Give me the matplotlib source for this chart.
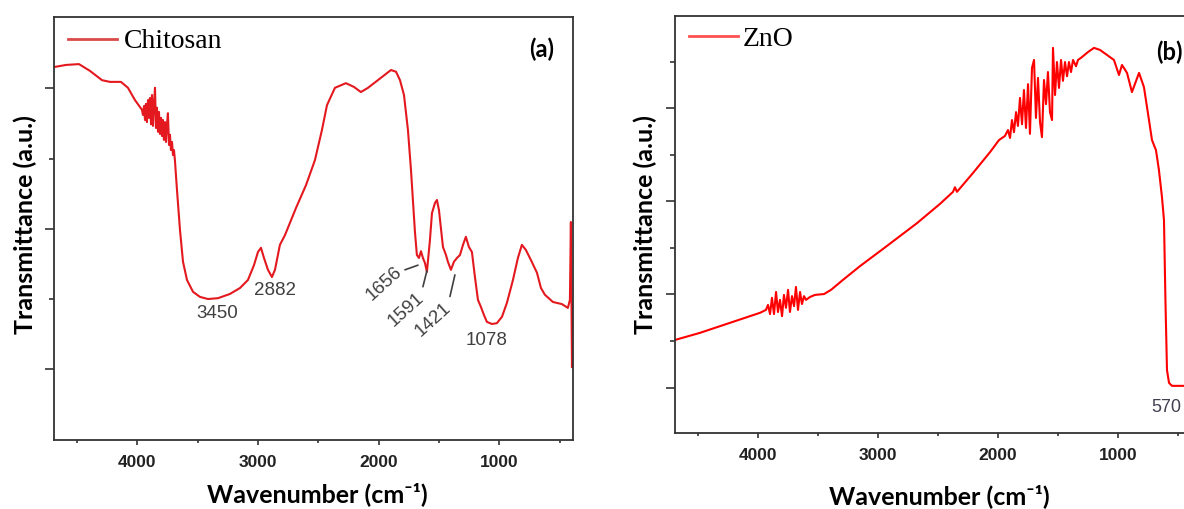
import matplotlib
matplotlib.use("Agg")
import matplotlib.pyplot as plt

# FTIR spectrum of chitosan (wavenumber cm-1, transmittance a.u.)
chitosan_wn = [4690, 4591, 4483, 4392, 4292, 4226, 4135, 4077, 4019, 3961,
               3953, 3944, 3936, 3928, 3920, 3911, 3903, 3895, 3886, 3878,
               3870, 3862, 3853, 3845, 3837, 3828, 3820, 3812, 3803, 3795,
               3787, 3779, 3770, 3762, 3754, 3746, 3737, 3729, 3721, 3712,
               3704, 3696, 3688, 3671, 3646, 3621, 3588, 3538, 3480, 3414,
               3331, 3232, 3149, 3083, 3033, 3000, 2975, 2950, 2917, 2884,
               2859, 2818, 2776, 2685, 2602, 2528, 2470, 2428, 2362, 2271,
               2204, 2147, 2088, 2006, 1939, 1898, 1856, 1823, 1790, 1757,
               1732, 1716, 1699, 1683, 1666, 1649, 1633, 1616, 1600, 1575,
               1558, 1533, 1517, 1500, 1484, 1467, 1442, 1426, 1401, 1376,
               1351, 1326, 1301, 1277, 1252, 1227, 1202, 1177, 1152, 1127,
               1103, 1061, 1020, 978, 937, 887, 846, 813, 780, 738,
               688, 655, 622, 556, 481, 432, 415, 407, 398, 390]
chitosan_t = [88.1, 88.6, 88.8, 87.2, 85.0, 84.6, 84.6, 83.2, 80.3, 78.0,
              76.8, 78.9, 75.6, 79.4, 75.1, 80.3, 76.1, 80.8, 74.6, 81.5,
              74.2, 79.1, 83.2, 73.7, 78.5, 72.8, 77.5, 72.3, 76.1, 71.8,
              75.6, 70.9, 75.1, 70.4, 74.4, 77.2, 69.7, 72.1, 68.5, 70.4,
              67.3, 68.5, 66.1, 59.1, 49.6, 42.1, 37.8, 35.0, 33.8, 33.3,
              33.5, 34.5, 35.9, 37.8, 41.3, 44.4, 45.4, 43.0, 40.2, 38.5,
              40.2, 46.1, 48.4, 54.8, 60.2, 66.1, 73.2, 79.1, 83.2, 84.3,
              83.4, 82.2, 83.2, 85.0, 86.5, 87.4, 87.0, 85.0, 81.5, 73.2,
              63.8, 56.7, 49.1, 43.7, 43.0, 44.6, 43.0, 41.8, 39.7, 47.2,
              53.6, 56.0, 56.7, 54.3, 50.1, 45.6, 43.7, 42.1, 40.2, 42.1,
              43.0, 43.7, 46.1, 48.0, 45.6, 44.4, 38.5, 33.1, 31.4, 29.5,
              27.9, 27.4, 27.6, 29.1, 32.4, 37.8, 43.0, 46.1, 44.9, 42.5,
              39.5, 35.9, 34.3, 32.6, 32.1, 31.2, 33.1, 51.5, 17.2, 31.9]

# FTIR spectrum of ZnO
zno_wn = [4690, 4482, 4232, 3982, 3932,
          3915, 3898, 3882, 3865, 3848, 3832, 3815, 3798, 3782, 3765,
          3748, 3732, 3715, 3698, 3682, 3665, 3648, 3632, 3615, 3598,
          3565, 3523, 3448, 3390, 3290, 3148, 2948, 2673, 2482, 2373,
          2357, 2340, 2207, 2065, 1990, 1940,
          1915, 1898, 1882, 1865, 1848, 1832, 1815, 1798, 1782, 1765,
          1748, 1732, 1715, 1698, 1682, 1665, 1648, 1632, 1615, 1598,
          1582, 1565, 1548, 1540, 1523, 1507, 1490, 1473, 1457, 1440,
          1423, 1407, 1390, 1373, 1348, 1332, 1307,
          1248, 1198, 1148, 1090, 1032, 990, 965, 923, 882, 823,
          782, 740, 715, 682, 673, 657, 632, 615, 603, 590,
          573, 548, 440, 390]
zno_t = [22.3, 24.0, 26.4, 28.8, 29.5,
         30.7, 28.5, 32.4, 28.5, 33.8, 29.0, 31.9, 28.0, 33.1, 30.0,
         34.3, 29.0, 32.8, 30.4, 35.0, 29.5, 33.8, 30.9, 32.8, 31.9,
         32.6, 33.1, 33.3, 34.3, 36.7, 40.0, 44.3, 50.3, 54.9, 57.8,
         58.9, 57.8, 62.3, 67.3, 70.2, 71.2,
         72.6, 70.7, 75.0, 72.1, 76.9, 73.6, 80.3, 74.0, 82.2, 73.1,
         83.6, 71.7, 87.5, 89.4, 75.5, 85.1, 74.5, 70.9, 84.6, 78.8,
         86.5, 76.9, 75.0, 92.3, 81.0, 88.9, 82.7, 89.4, 84.4, 88.9,
         85.5, 88.9, 86.5, 89.4, 87.9, 89.4, 89.9,
         91.3, 92.3, 91.8, 90.6, 89.4, 85.8, 88.2, 86.3, 81.7, 86.3,
         82.9, 75.0, 70.2, 67.8, 66.1, 63.0, 56.6, 51.0, 31.9, 15.1,
         12.0, 11.3, 11.3, 11.3]

x_major = [4000, 3000, 2000, 1000]
x_minor = [4500, 3500, 2500, 1500, 500]
left_major = [16.8, 49.8, 83.2]
left_minor = [33.3, 66.4]
right_major = [10.9, 33.3, 55.6, 77.9]
right_minor = [22.0, 44.3, 66.6, 88.9]

# peak labels: (text, x, y, rotation)
chitosan_peaks = [('3450', 3340, 29.8, 0), ('2882', 2859, 35.4, 0),
                  ('1656', 1956, 36.9, 42), ('1591', 1776, 30.7, 42),
                  ('1421', 1548, 28.5, 42), ('1078', 1103, 23.4, 0)]
# leader lines: (x_text_end, y_text_end, x_peak, y_peak)
chitosan_leaders = [(1782, 40.2, 1674, 41.3), (1633, 36.2, 1600, 40.0),
                    (1409, 33.9, 1368, 39.0)]

fig = plt.figure(figsize=(11.84, 5.09), dpi=100)
ax1 = fig.add_axes([0.0456, 0.1356, 0.4383, 0.8316])
ax2 = fig.add_axes([0.5701, 0.1493, 0.4358, 0.8198])

label_font = dict(family=['Lato', 'DejaVu Sans'], weight='bold', fontsize=18)
tick_font = dict(family='Liberation Sans', weight='bold', size=12.5)


def style(ax, ymaj, ymin):
    ax.set_xlim(4690, 390)
    ax.set_ylim(0, 100)
    ax.set_xticks(x_major)
    ax.set_xticks(x_minor, minor=True)
    ax.set_yticks(ymaj)
    ax.set_yticks(ymin, minor=True)
    ax.set_yticklabels([])
    ax.tick_params(axis='y', which='major', length=6.5, width=1.2, color='#333333')
    ax.tick_params(axis='y', which='minor', length=3.5, width=1.2, color='#333333')
    ax.tick_params(axis='x', which='major', length=3.5, width=1.2, color='#333333', pad=7)
    ax.tick_params(axis='x', which='minor', length=2.5, width=1.2, color='#333333')
    for lab in ax.get_xticklabels():
        lab.set_fontproperties(matplotlib.font_manager.FontProperties(**tick_font))
        lab.set_color('#222222')
    for s in ax.spines.values():
        s.set_color('#333333')
        s.set_linewidth(1.3)
    ax.set_xlabel('Wavenumber (cm⁻¹)', va='center', **label_font)
    ax.set_ylabel('Transmittance (a.u.)', va='center', **label_font)


# (a) chitosan
ax1.plot(chitosan_wn, chitosan_t, color='#e3191f', lw=1.5, label='Chitosan')
style(ax1, left_major, left_minor)
ax1.xaxis.set_label_coords(0.507, -0.128)
ax1.yaxis.set_label_coords(-0.056, 0.508)
leg = ax1.legend(loc='center left', bbox_to_anchor=(0.027, 0.941), frameon=False,
                 borderpad=0, borderaxespad=0, handlelength=1.75, handletextpad=0.25,
                 prop=dict(family='Liberation Serif', size=20))
leg.get_lines()[0].set_color('#d94a4a')
leg.get_lines()[0].set_linewidth(2)
ax1.text(0.94, 0.922, '(a)', transform=ax1.transAxes, ha='center', va='center',
         family='Lato', weight='bold', fontsize=17)
for txt, x, y, rot in chitosan_peaks:
    ax1.text(x, y, txt, ha='center', va='center', rotation=rot,
             family='Liberation Sans', fontsize=13.5, color='#404040')
for x0, y0, x1, y1 in chitosan_leaders:
    ax1.annotate('', xy=(x1, y1), xytext=(x0, y0),
                 arrowprops=dict(arrowstyle='-', color='#404040', lw=1.2,
                                 shrinkA=0, shrinkB=0))

# (b) ZnO
ax2.plot(zno_wn, zno_t, color='#ff0000', lw=1.5, label='ZnO')
style(ax2, right_major, right_minor)
ax2.xaxis.set_label_coords(0.512, -0.15)
ax2.yaxis.set_label_coords(-0.058, 0.499)
leg = ax2.legend(loc='center left', bbox_to_anchor=(0.027, 0.944), frameon=False,
                 borderpad=0, borderaxespad=0, handlelength=1.75, handletextpad=0.2,
                 prop=dict(family='Liberation Serif', size=20))
leg.get_lines()[0].set_color('#ff5050')
leg.get_lines()[0].set_linewidth(2)
ax2.text(682, 91.3, '(b)', ha='left', va='center',
         family='Lato', weight='bold', fontsize=17)
ax2.text(722, 6.2, '570', ha='left', va='center',
         family='Liberation Sans', fontsize=13, color='#404050')

fig.savefig('out.png', dpi=100)
